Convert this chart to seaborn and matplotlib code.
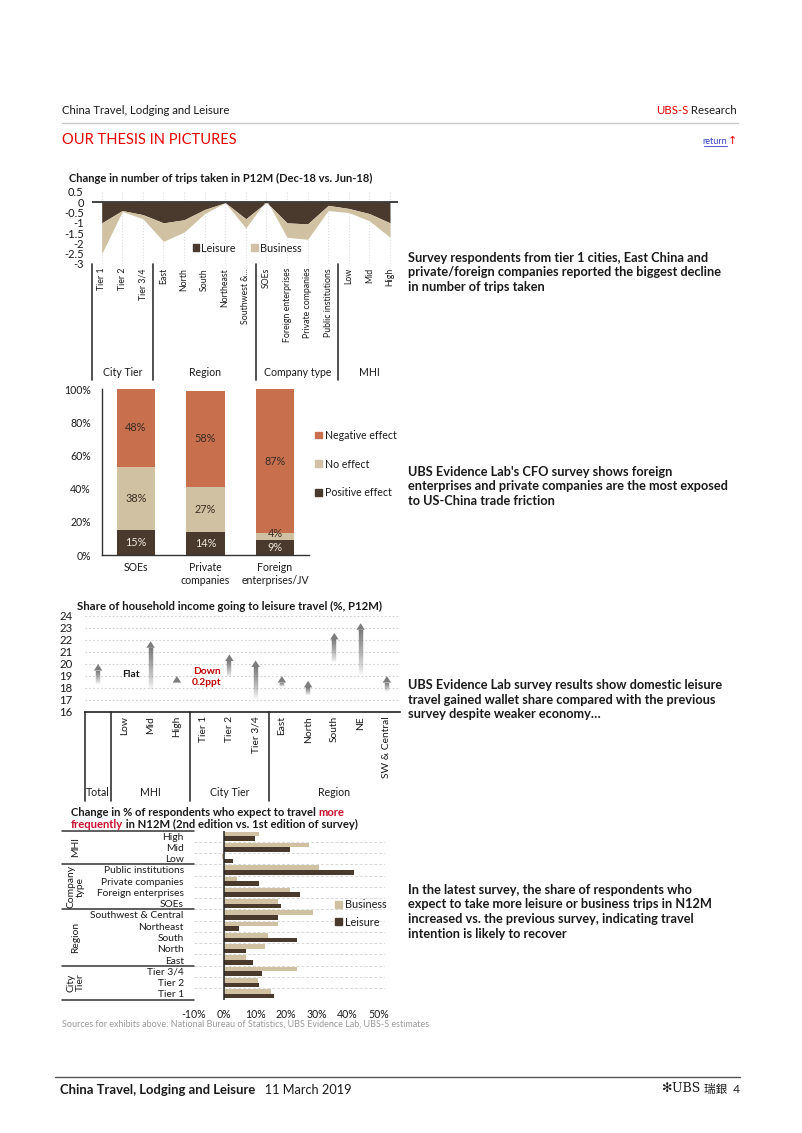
import numpy as np
import pandas as pd
import seaborn as sns
import matplotlib.pyplot as plt
import matplotlib.transforms as mtransforms
from matplotlib.collections import LineCollection
from matplotlib.patches import Polygon, Patch
from matplotlib.lines import Line2D
from matplotlib.colors import to_rgb

W, H = 802, 1133

DARK = '#4a3a2e'
TAN = '#d0c1a2'
ORANGE = '#c8704e'
RED = '#e60000'
TXT = '#1a1a1a'

# --- chart 1: change in number of trips taken
trip_cats = ['Tier 1', 'Tier 2', 'Tier 3/4', 'East', 'North', 'South', 'Northeast',
             'Southwest &...', 'SOEs', 'Foreign enterprises', 'Private companies',
             'Public institutions', 'Low', 'Mid', 'High']
trip_leisure = [-1.0, -0.4, -0.6, -1.0, -0.85, -0.35, -0.02, -0.8, 0.0, -1.0, -1.05, -0.15, -0.3, -0.55, -1.0]
trip_business = [-1.5, -0.05, -0.2, -0.9, -0.6, -0.2, 0.0, -0.45, 0.12, -0.7, -0.75, -0.25, -0.2, -0.35, -0.7]
trip_groups = ['City Tier', 'Region', 'Company type', 'MHI']
trip_group_sizes = [3, 5, 4, 3]

# --- chart 2: trade friction effect
effect_cats = ['SOEs', 'Private\ncompanies', 'Foreign\nenterprises/JV']
effect_positive = [15, 14, 9]
effect_none = [38, 27, 4]
effect_negative = [48, 58, 87]

# --- chart 3: share of household income to leisure travel
share_cats = ['Total', 'Low', 'Mid', 'High', 'Tier 1', 'Tier 2', 'Tier 3/4',
              'East', 'North', 'South', 'NE', 'SW & Central']
share_from = [18.3, np.nan, 17.8, 18.4, np.nan, 18.9, 17.0, 18.1, 17.4, 20.1, 19.0, 17.7]
share_to = [20.0, np.nan, 21.9, 19.0, np.nan, 20.8, 20.3, 19.0, 18.6, 22.6, 23.4, 19.0]
share_groups = ['Total', 'MHI', 'City Tier', 'Region']
share_group_sizes = [1, 3, 3, 5]

# --- chart 4: change in % expecting to travel more frequently
freq_cats = ['High', 'Mid', 'Low', 'Public institutions', 'Private companies',
             'Foreign enterprises', 'SOEs', 'Southwest & Central', 'Northeast', 'South',
             'North', 'East', 'Tier 3/4', 'Tier 2', 'Tier 1']
freq_business = [11.1, 27.6, -0.8, 30.6, 4.0, 21.3, 17.3, 28.7, 17.3, 14.1, 13.2, 7.0, 23.5, 11.0, 15.2]
freq_leisure = [10.1, 21.3, 2.9, 42.0, 11.1, 24.6, 18.3, 17.3, 4.9, 23.5, 7.0, 9.2, 12.1, 11.1, 16.2]
freq_groups = ['MHI', 'Company\ntype', 'Region', 'City\nTier']
freq_group_sizes = [3, 4, 5, 3]

side_notes = [
    'Survey respondents from tier 1 cities, East China and\nprivate/foreign companies reported the biggest decline\nin number of trips taken',
    "UBS Evidence Lab's CFO survey shows foreign\nenterprises and private companies are the most exposed\nto US-China trade friction",
    'UBS Evidence Lab survey results show domestic leisure\ntravel gained wallet share compared with the previous\nsurvey despite weaker economy…',
    'In the latest survey, the share of respondents who\nexpect to take more leisure or business trips in N12M\nincreased vs. the previous survey, indicating travel\nintention is likely to recover',
]


def fx(x):
    return x / W


def fy(y):
    return 1 - y / H


def px_axes(fig, left, top, right, bottom):
    return fig.add_axes([fx(left), fy(bottom), (right - left) / W, (bottom - top) / H])


def group_edges(sizes):
    edges = np.concatenate([[0], np.cumsum(sizes)]) - 0.5
    return edges


sns.set_theme(style='white')
plt.rcParams['font.family'] = ['Lato', 'DejaVu Sans', 'Noto Sans CJK TC']
plt.rcParams['text.color'] = TXT
plt.rcParams['axes.labelcolor'] = TXT
plt.rcParams['xtick.color'] = TXT
plt.rcParams['ytick.color'] = TXT

fig = plt.figure(figsize=(W / 100, H / 100), dpi=100)

# ---------------- header / footer
fig.text(fx(62), fy(110), 'China Travel, Lodging and Leisure', fontsize=8.2, va='center')
t_res = fig.text(fx(737), fy(110), ' Research', fontsize=8.2, va='center', ha='right')
fig.add_artist(Line2D([fx(62), fx(738)], [fy(123), fy(123)], color='#c8c8c8', lw=1))
fig.text(fx(62), fy(140), 'OUR THESIS IN PICTURES', fontsize=10.5, color=RED, va='center')
fig.text(fx(727), fy(141), 'return', fontsize=6.5, color='#3340c0', va='center', ha='right')
fig.add_artist(Line2D([fx(704), fx(727)], [fy(146), fy(146)], color='#3340c0', lw=0.6))
fig.text(fx(737), fy(141), '↑', fontsize=8, color=RED, va='center', ha='right',
         family=['DejaVu Sans'])
fig.add_artist(Line2D([fx(55), fx(740)], [fy(1077), fy(1077)], color='#555555', lw=1))
t_foot = fig.text(fx(60), fy(1090), 'China Travel, Lodging and Leisure', fontsize=9.4,
                  fontweight='bold', va='center')
t_page = fig.text(fx(740), fy(1090), '瑞銀  4', fontsize=8.4, va='center', ha='right',
                  family=['Lato', 'Noto Sans CJK TC'])
fig.text(fx(62), fy(1024), 'Sources for exhibits above: National Bureau of Statistics, UBS Evidence Lab, UBS-S estimates',
         fontsize=6.45, color='#9a9a9a', va='center')

for note, ytop in zip(side_notes, [252, 466, 679, 884]):
    fig.text(fx(408), fy(ytop), note, fontsize=9.15, fontweight='bold', va='top',
             linespacing=1.25)

# ---------------- chart 1
ax1 = px_axes(fig, 92, 192, 398, 264)
x1 = np.arange(len(trip_cats))
lei = np.array(trip_leisure)
bus = np.array(trip_business)
ax1.fill_between(x1, 0, lei, color=DARK, lw=0, label='Leisure')
ax1.fill_between(x1, lei, lei + bus, color=TAN, lw=0, label='Business')
ax1.axhline(0, color='#222222', lw=1.2)
ax1.set_xlim(-0.47, 14.39)
ax1.set_ylim(-3, 0.5)
yt = np.arange(-3, 0.51, 0.5)
ax1.set_yticks(yt)
ax1.set_yticklabels([f'{v:g}' for v in yt], fontsize=8)
ax1.set_xticks(x1)
ax1.set_xticklabels([])
ax1.tick_params(axis='both', length=0, pad=6)
ax1.grid(axis='x', ls=':', color='#dddddd', lw=0.8)
for s in ax1.spines.values():
    s.set_visible(False)
ax1.legend(handles=[Patch(color=DARK, label='Leisure'), Patch(color=TAN, label='Business')],
           ncol=2, loc='center', bbox_to_anchor=(0.507, 0.22), frameon=False, fontsize=7.8,
           handlelength=0.6, handleheight=0.6, handletextpad=0.2, columnspacing=1.4)
tr1 = mtransforms.blended_transform_factory(ax1.transData, ax1.transAxes)


def yfrac1(p):
    return (264 - p) / 72


for i, c in enumerate(trip_cats):
    ax1.text(i, yfrac1(268), c, rotation=90, ha='center', va='top', fontsize=6.3,
             transform=tr1, clip_on=False)
edges = group_edges(trip_group_sizes)
for e in edges[:-1]:
    xe = max(e, -0.47)
    ax1.add_line(Line2D([xe, xe], [yfrac1(264), yfrac1(380)], color='#333333', lw=1.2,
                        transform=tr1, clip_on=False))
for g, a, b in zip(trip_groups, edges[:-1], edges[1:]):
    ax1.text((a + b) / 2, yfrac1(372), g, ha='center', va='center', fontsize=7.6,
             transform=tr1, clip_on=False)
fig.text(fx(69), fy(178), 'Change in number of trips taken in P12M (Dec-18 vs. Jun-18)',
         fontsize=8.0, fontweight='bold', va='center')

# ---------------- chart 2
ax2 = px_axes(fig, 102, 389, 309, 555)
df2 = pd.DataFrame({'cat': effect_cats, 'pos': effect_positive, 'none': effect_none,
                    'neg': effect_negative})
df2['top'] = df2['pos'] + df2['none'] + df2['neg']
df2['mid'] = df2['pos'] + df2['none']
for col, colr in [('top', ORANGE), ('mid', TAN), ('pos', DARK)]:
    sns.barplot(data=df2, x='cat', y=col, color=colr, width=0.55, saturation=1,
                linewidth=0, ax=ax2)
for i, row in df2.iterrows():
    ax2.text(i, row['pos'] / 2, f"{row['pos']}%", ha='center', va='center', fontsize=7.8,
             color='#efe8dc')
    ax2.text(i, row['pos'] + row['none'] / 2 + (1.8 if row['none'] < 6 else 0),
             f"{row['none']}%", ha='center', va='center', fontsize=7.8, color='#3a2d24')
    ax2.text(i, row['mid'] + row['neg'] / 2, f"{row['neg']}%", ha='center', va='center',
             fontsize=7.8, color='#3a2d24')
ax2.set_xlim(-0.49, 2.49)
ax2.set_ylim(0, 100)
ax2.set_yticks(range(0, 101, 20))
ax2.set_yticklabels([f'{v}%' for v in range(0, 101, 20)], fontsize=7.8)
ax2.set_xlabel('')
ax2.set_ylabel('')
ax2.tick_params(axis='both', length=0, labelsize=7.6)
ax2.tick_params(axis='y', pad=8)
ax2.tick_params(axis='x', pad=5)
for s in ['top', 'right']:
    ax2.spines[s].set_visible(False)
for s in ['left', 'bottom']:
    ax2.spines[s].set_color('#333333')
    ax2.spines[s].set_linewidth(1)
ax2.legend(handles=[Patch(color=ORANGE, label='Negative effect'),
                    Patch(color=TAN, label='No effect'),
                    Patch(color=DARK, label='Positive effect')],
           loc='center left', bbox_to_anchor=(0.985, 0.548), frameon=False, fontsize=7.6,
           handlelength=0.6, handleheight=0.6, handletextpad=0.3, labelspacing=1.7)

# ---------------- chart 3
ax3 = px_axes(fig, 85, 616, 400, 712)
ax3.set_xlim(-0.5, 11.5)
ax3.set_ylim(16, 24)
ax3.set_yticks(range(16, 25))
ax3.set_yticklabels([str(v) for v in range(16, 25)], fontsize=8.2)
ax3.set_xticks([])
ax3.tick_params(axis='y', length=0, pad=9)
ax3.grid(axis='y', ls=(0, (1.5, 2)), color='#cfcfcf', lw=0.8)
for s in ['top', 'right', 'left']:
    ax3.spines[s].set_visible(False)
ax3.spines['bottom'].set_color('#222222')
ax3.spines['bottom'].set_linewidth(1.2)


def gradient_arrow(ax, x, y0, y1, color='#767676', n=50, head_w=0.16, head_h=0.55, lw=3.2):
    ys = np.linspace(y0, y1 - head_h, n + 1)
    segs = [[(x, ys[k]), (x, ys[k + 1])] for k in range(n)]
    r, g, b = to_rgb(color)
    cols = [(r, g, b, a) for a in np.linspace(0.0, 0.95, n) ** 0.8]
    ax.add_collection(LineCollection(segs, colors=cols, linewidths=lw, capstyle='butt'))
    ax.add_patch(Polygon([(x - head_w, y1 - head_h), (x + head_w, y1 - head_h), (x, y1)],
                         closed=True, facecolor=color, edgecolor='none', alpha=0.95))


for i, (a, b) in enumerate(zip(share_from, share_to)):
    if not np.isnan(a):
        gradient_arrow(ax3, i, a, b)
ax3.text(1.25, 19.1, 'Flat', ha='center', va='center', fontsize=7.4, fontweight='bold')
ax3.text(4.15, 18.95, 'Down\n0.2ppt', ha='center', va='center', fontsize=7.4,
         fontweight='bold', color='#c00000', linespacing=1.3)
tr3 = mtransforms.blended_transform_factory(ax3.transData, ax3.transAxes)


def yfrac3(p):
    return (712 - p) / 96


for i, c in enumerate(share_cats):
    if i == 0:
        continue
    ax3.text(i, yfrac3(716), c, rotation=90, ha='center', va='top', fontsize=7.4,
             transform=tr3, clip_on=False)
edges3 = group_edges(share_group_sizes)
for e in edges3[:-1]:
    ax3.add_line(Line2D([e, e], [yfrac3(712), yfrac3(801)], color='#333333', lw=1.2,
                        transform=tr3, clip_on=False))
for g, a, b in zip(share_groups, edges3[:-1], edges3[1:]):
    ax3.text((a + b) / 2, yfrac3(793), g, ha='center', va='center', fontsize=7.6,
             transform=tr3, clip_on=False)
fig.text(fx(77), fy(606), 'Share of household income going to leisure travel (%, P12M)',
         fontsize=8.2, fontweight='bold', va='center')

# ---------------- chart 4
ax4 = px_axes(fig, 193.5, 830.5, 384.7, 999.5)
df4 = pd.DataFrame({'cat': freq_cats * 2,
                    'value': freq_business + freq_leisure,
                    'series': ['Business'] * len(freq_cats) + ['Leisure'] * len(freq_cats)})
sns.barplot(data=df4, y='cat', x='value', hue='series', hue_order=['Business', 'Leisure'],
            palette=[TAN, DARK], orient='h', width=0.82, saturation=1, linewidth=0,
            legend=False, ax=ax4)
ax4.set_xlim(-10, 52)
ax4.set_xticks(range(-10, 51, 10))
ax4.set_xticklabels([f'{v}%' for v in range(-10, 51, 10)], fontsize=7.6)
ax4.set_xlabel('')
ax4.set_ylabel('')
ax4.tick_params(axis='both', length=0)
ax4.tick_params(axis='x', pad=7)
ax4.tick_params(axis='y', pad=7, labelsize=7.4)
for s in ax4.spines.values():
    s.set_visible(False)
for k in range(len(freq_cats) - 1):
    ax4.axhline(k + 0.5, color='#d8d8d8', ls=(0, (3, 2)), lw=0.7, zorder=0)
ax4.axvline(0, color='#222222', lw=1.1)
ax4.set_ylim(len(freq_cats) - 0.5, -0.5)
ax4.legend(handles=[Patch(color=TAN, label='Business'), Patch(color=DARK, label='Leisure')],
           loc='center left', bbox_to_anchor=(0.69, 0.51), frameon=False, fontsize=7.8,
           handlelength=0.6, handleheight=0.6, handletextpad=0.3, labelspacing=0.6)
tr4 = mtransforms.blended_transform_factory(ax4.transAxes, ax4.transData)
x_left = (62 - 193.5) / 191.2
edges4 = group_edges(freq_group_sizes)
for e in edges4:
    ax4.add_line(Line2D([x_left, 0], [e, e], color='#333333', lw=1.1, transform=tr4,
                        clip_on=False))
for g, a, b in zip(freq_groups, edges4[:-1], edges4[1:]):
    ax4.text((76 - 193.5) / 191.2, (a + b) / 2, g, rotation=90, ha='center', va='center',
             fontsize=7.4, transform=tr4, clip_on=False, linespacing=1.0)

t1 = fig.text(fx(71), fy(813), 'Change in % of respondents who expect to travel ',
              fontsize=8.1, fontweight='bold', va='center')
ax4.annotate('more', xy=(1, 0), xycoords=t1, va='bottom', ha='left', fontsize=8.1,
             fontweight='bold', color='#c8102e', annotation_clip=False)
t2 = fig.text(fx(71), fy(824.5), 'frequently', fontsize=8.1, fontweight='bold', va='center',
              color='#c8102e')
ax4.annotate(' in N12M (2nd edition vs. 1st edition of survey)', xy=(1, 0), xycoords=t2,
             va='bottom', ha='left', fontsize=8.1, fontweight='bold', annotation_clip=False)

# chained header/footer pieces
ax4.annotate('UBS-S', xy=(0, 0), xycoords=t_res, va='bottom', ha='right', fontsize=8.2,
             color=RED, annotation_clip=False)
ax4.annotate('   11 March 2019', xy=(1, 0), xycoords=t_foot, va='bottom', ha='left',
             fontsize=9.2, annotation_clip=False)
t_ubs = ax4.annotate('UBS ', xy=(0, 0), xycoords=t_page, va='bottom', ha='right',
                     fontsize=9, family=['DejaVu Serif'], annotation_clip=False)
ax4.annotate('✻', xy=(0, 0), xycoords=t_ubs, va='bottom', ha='right', fontsize=9,
             family=['DejaVu Sans'], annotation_clip=False)

fig.savefig('out.png', dpi=100)
